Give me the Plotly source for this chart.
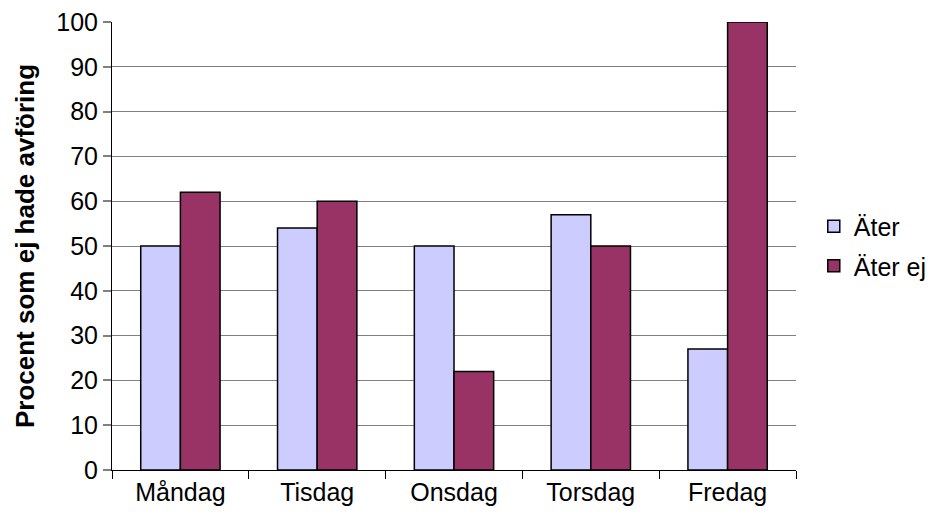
import plotly.graph_objects as go

# Weekdays and the two groups being compared
dagar = ["Måndag", "Tisdag", "Onsdag", "Torsdag", "Fredag"]
ater = [50, 54, 50, 57, 27]
ater_ej = [62, 60, 22, 50, 100]
y_ticks = list(range(0, 101, 10))

fig = go.Figure()
fig.add_trace(go.Bar(
    x=dagar, y=ater, name="Äter", legendgroup="a",
    marker=dict(color="#CCCCFF", line=dict(color="#000000", width=1.5)),
))
fig.add_trace(go.Bar(
    x=dagar, y=ater_ej, name="Äter ej", legendgroup="b",
    marker=dict(color="#993366", line=dict(color="#000000", width=1.5)),
))

family = "Liberation Sans, Arial, sans-serif"
font = dict(family=family, size=25, color="#000000")

fig.update_layout(
    width=931, height=522,
    margin=dict(l=112, r=135, t=22, b=52, autoexpand=False),
    paper_bgcolor="white", plot_bgcolor="white",
    barmode="group", bargap=0.42, bargroupgap=0,
    font=font,
    showlegend=True,
    legend=dict(
        x=1.026, xanchor="left", y=0.5, yanchor="middle",
        font=dict(family=family, size=25, color="#000000"),
        itemwidth=30, tracegroupgap=4,
    ),
    xaxis=dict(
        showline=True, linecolor="#000000", linewidth=1,
        ticks="outside", ticklen=8, tickcolor="#000000",
        tickson="boundaries", showgrid=False, automargin=False,
        tickfont=font,
    ),
    yaxis=dict(
        range=[0, 100], tickvals=y_ticks,
        showline=True, linecolor="#000000", linewidth=1,
        ticks="outside", ticklen=8, tickcolor="#808080", tickwidth=2,
        showgrid=True, gridcolor="#808080", gridwidth=1,
        zeroline=False, automargin=False,
        tickfont=font,
        title=dict(text="<b>Procent som ej hade avföring</b>",
                   font=dict(family=family, size=26, color="#000000"),
                   standoff=14),
    ),
)

fig.write_html("out.html")
